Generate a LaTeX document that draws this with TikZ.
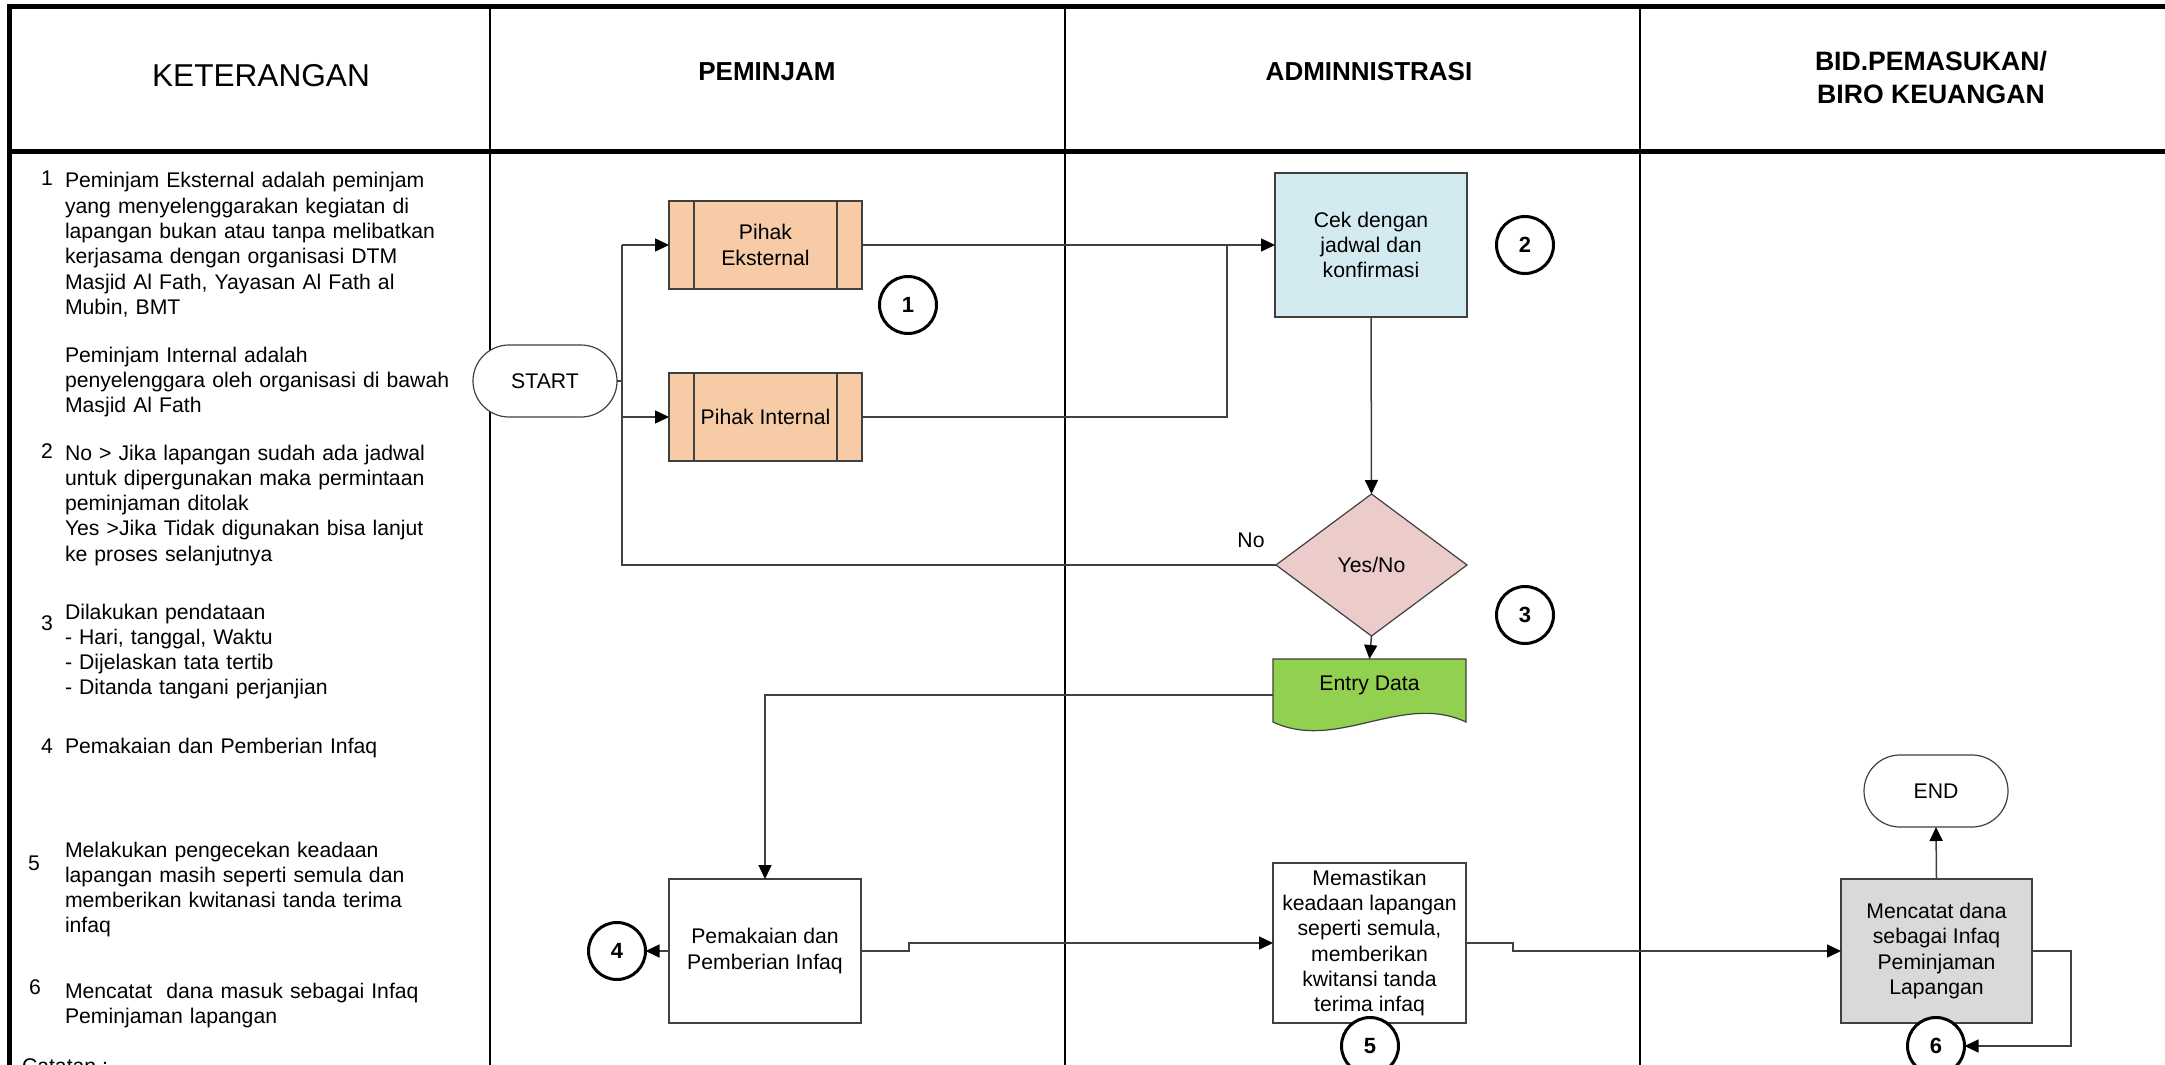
\documentclass[tikz,border=0pt]{standalone}
\usepackage{fontspec}
\setmainfont{Liberation Sans}
\usetikzlibrary{shapes.geometric,arrows.meta,calc}
\newcommand\ktfont{\fontsize{10.6}{12.65}\selectfont}
\definecolor{peach}{HTML}{F8CBA7}
\definecolor{lblue}{HTML}{D3EBF0}
\definecolor{lpink}{HTML}{ECCBCB}
\definecolor{lgreen}{HTML}{92D050}
\definecolor{lgray}{HTML}{D9D9D9}
\definecolor{edge}{HTML}{404040}
\begin{document}
\begin{tikzpicture}[x=0.5pt,y=-0.5pt,
  every node/.style={inner sep=0pt, outer sep=0pt, font=\ktfont},
  frameline/.style={line width=2.5pt, black},
  divider/.style={line width=1pt, black},
  conn/.style={draw=edge, line width=0.75pt},
  arr/.style={conn, -{Triangle[length=7pt,width=6.5pt,black]}},
  box/.style={draw=edge, line width=0.75pt, rectangle, align=center},
  pihak/.style={box, fill=peach, minimum width=96.5pt, minimum height=44pt,
    path picture={\draw[edge, line width=0.75pt]
      ([xshift=12.5pt]path picture bounding box.north west) -- ([xshift=12.5pt]path picture bounding box.south west)
      ([xshift=-12.5pt]path picture bounding box.north east) -- ([xshift=-12.5pt]path picture bounding box.south east);}},
  term/.style={draw=edge, line width=0.6pt, rectangle, rounded corners=18pt, minimum width=72pt, minimum height=36pt, fill=white},
  num/.style={circle, draw=black, line width=1.5pt, minimum size=28.5pt, fill=white, font=\bfseries\fontsize{11}{13}\selectfont},
  ket/.style={anchor=base west, text width=200pt, align=left},
  ketnum/.style={anchor=base},
  headbold/.style={font=\bfseries\fontsize{13}{16.5}\selectfont, align=center}
]
\useasboundingbox (0,0) rectangle (2165,1065);
\clip (0,0) rectangle (2165,1065);
\fill[white] (0,0) rectangle (2165,1065);

% frame
\draw[divider] (490,9) -- (490,1070);
\draw[divider] (1065,9) -- (1065,1070);
\draw[divider] (1640,9) -- (1640,1070);
\draw[frameline] (7,7) -- (2170,7);
\draw[frameline] (7,151.5) -- (2170,151.5);
\draw[frameline] (9.5,4.5) -- (9.5,1070);

% headers
\node[font=\fontsize{15.8}{19}\selectfont] (hket) at (261,76) {KETERANGAN};
\node[headbold] (hpem) at (767,72) {PEMINJAM};
\node[headbold] (hadm) at (1369,72) {ADMINNISTRASI};
\node[headbold, font=\bfseries\fontsize{13.3}{16.5}\selectfont] (hbid) at (1931,77.5) {BID.PEMASUKAN/\\BIRO KEUANGAN};

% keterangan
\node[ketnum] (n1) at (47,185.6) {1};
\node[ket] (k1) at (65,188) {Peminjam Eksternal adalah peminjam\\yang menyelenggarakan kegiatan di\\lapangan bukan atau tanpa melibatkan\\kerjasama dengan organisasi DTM\\Masjid Al Fath, Yayasan Al Fath al\\Mubin, BMT};
\node[ket] (k1b) at (65,362) {Peminjam Internal adalah\\penyelenggara oleh organisasi di bawah\\Masjid Al Fath};
\node[ketnum] (n2) at (47,458) {2};
\node[ket] (k2) at (65,460) {No > Jika lapangan sudah ada jadwal\\untuk dipergunakan maka permintaan\\peminjaman ditolak\\Yes >Jika Tidak digunakan bisa lanjut\\ke proses selanjutnya};
\node[ketnum] (n3) at (47,630) {3};
\node[ket] (k3) at (65,619) {Dilakukan pendataan\\- Hari, tanggal, Waktu\\- Dijelaskan tata tertib\\- Ditanda tangani perjanjian};
\node[ketnum] (n4) at (47,753) {4};
\node[ket] (k4) at (65,753) {Pemakaian dan Pemberian Infaq};
\node[ketnum] (n5) at (34,870) {5};
\node[ket] (k5) at (65,857) {Melakukan pengecekan keadaan\\lapangan masih seperti semula dan\\memberikan kwitanasi tanda terima\\infaq};
\node[ketnum] (n6) at (35,994) {6};
\node[ket] (k6) at (65,998) {Mencatat\ \ dana masuk sebagai Infaq\\Peminjaman lapangan};
\node[anchor=base west] (catatan) at (22,1073) {Catatan :};

% flow nodes
\node[term] (start) at (545,381) {START};
\node[pihak] (ext) at (765.5,245) {Pihak\\Eksternal};
\node[pihak] (int) at (765.5,417) {Pihak Internal};
\node[num] (c1) at (908,305) {1};
\node[box, fill=lblue, minimum width=96pt, minimum height=72pt] (cek) at (1371,245) {Cek dengan\\jadwal dan\\konfirmasi};
\node[num] (c2) at (1525,245) {2};
\node[diamond, draw=edge, line width=0.6pt, fill=lpink, minimum width=95.5pt, minimum height=71pt] (dia) at (1371.5,565) {Yes/No};
\node (nolab) at (1251,540) {No};
\node[num] (c3) at (1525,615) {3};
\fill[lgreen] (1273,659) -- (1466,659) -- (1466,722) .. controls (1402,692) and (1337,752) .. (1273,722) -- cycle;
\draw[edge, line width=0.6pt] (1273,659) -- (1466,659) -- (1466,722) .. controls (1402,692) and (1337,752) .. (1273,722) -- cycle;
\node[minimum width=96.5pt, minimum height=26pt] (entry) at (1369.5,685) {Entry Data};
\node[box, fill=white, minimum width=96pt, minimum height=72pt] (pem) at (765,951) {Pemakaian dan\\Pemberian Infaq};
\node[num] (c4) at (617,951) {4};
\node[box, fill=white, minimum width=96.5pt, minimum height=80pt] (mem) at (1369.5,943) {Memastikan\\keadaan lapangan\\seperti semula,\\memberikan\\kwitansi tanda\\terima infaq};
\node[num] (c5) at (1370,1046) {5};
\node[term] (endn) at (1936,791) {END};
\node[box, fill=lgray, minimum width=95.5pt, minimum height=72pt] (menc) at (1936.5,951) {Mencatat dana\\sebagai Infaq\\Peminjaman\\Lapangan};
\node[num] (c6) at (1936,1046) {6};

% connectors
\coordinate (j1) at (622,245);
\coordinate (j3) at (1227,245);
\draw[conn] (start.east) -- (start.east -| j1);
\draw[conn] (dia.west) -| (j1);
\draw[arr] (j1) -- (ext.west);
\draw[arr] (j1 |- int.west) -- (int.west);
\draw[arr] (ext.east) -- (cek.west);
\draw[conn] (int.east) -| (j3);
\draw[arr] (cek.south) -- (dia.north);
\draw[arr] (dia.south) -- (entry.north);
\draw[arr] ([yshift=-5pt]entry.west) -| (pem.north);
\draw[arr] (pem.west) -- (c4.east);
\draw[arr] (pem.east) -- ++(48,0) |- (mem.west);
\draw[arr] (mem.east) -- ++(47,0) |- (menc.west);
\draw[arr] (menc.north) -- (endn.south);
\draw[arr] (menc.east) -- ++(39,0) |- (c6.east);
\end{tikzpicture}
\end{document}
